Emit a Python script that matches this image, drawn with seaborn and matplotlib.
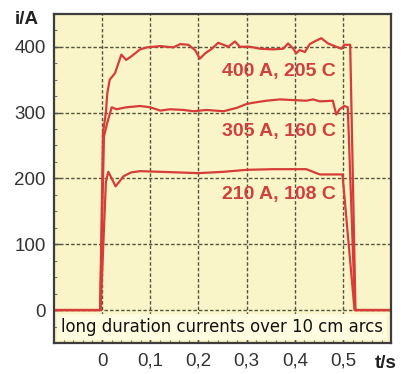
import matplotlib
matplotlib.use("Agg")
import matplotlib.pyplot as plt
from matplotlib.ticker import MultipleLocator
import seaborn as sns

# Current traces (t in s, i in A)
t_400 = [-0.1, -0.004, 0.002, 0.008, 0.011, 0.016, 0.027, 0.04, 0.05, 0.06, 0.079, 0.093,
         0.121, 0.148, 0.162, 0.179, 0.193, 0.203, 0.214, 0.228, 0.241, 0.252, 0.262, 0.276,
         0.286, 0.307, 0.328, 0.355, 0.376, 0.386, 0.397, 0.403, 0.41, 0.421, 0.431, 0.441,
         0.455, 0.469, 0.486, 0.497, 0.503, 0.515, 0.526, 0.6]
i_400 = [0, 0, 270, 300, 330, 350, 360, 388, 380, 385, 396, 399,
         401, 399, 404, 403, 395, 382, 390, 397, 406, 403, 400, 408,
         400, 400, 397, 396, 397, 405, 397, 390, 395, 392, 404, 408,
         413, 405, 400, 397, 403, 403, 0, 0]

t_305 = [-0.1, -0.004, 0.004, 0.011, 0.02, 0.03, 0.05, 0.079, 0.1, 0.121, 0.141, 0.169,
         0.19, 0.217, 0.252, 0.279, 0.3, 0.314, 0.341, 0.369, 0.397, 0.424, 0.438, 0.452,
         0.479, 0.486, 0.493, 0.503, 0.51, 0.525, 0.6]
i_305 = [0, 0, 264, 285, 308, 305, 308, 310, 308, 303, 305, 304,
         302, 304, 302, 307, 313, 315, 318, 320, 319, 318, 320, 317,
         318, 297, 305, 310, 308, 0, 0]

t_210 = [-0.1, -0.003, 0.008, 0.013, 0.02, 0.028, 0.036, 0.044, 0.06, 0.079, 0.121,
         0.2, 0.252, 0.3, 0.355, 0.424, 0.438, 0.452, 0.499, 0.524, 0.6]
i_210 = [0, 0, 195, 210, 200, 188, 195, 203, 209, 211, 210,
         208, 210, 213, 214, 214, 210, 206, 206, 0, 0]

trace_labels = ['400 A, 205 C', '305 A, 160 C', '210 A, 108 C']
label_t = [0.368, 0.368, 0.368]
label_i = [362, 271, 176]

x_ticks = [0, 0.1, 0.2, 0.3, 0.4, 0.5]
x_ticklabels = ['0', '0,1', '0,2', '0,3', '0,4', '0,5']
y_ticks = [0, 100, 200, 300, 400]
y_ticklabels = ['0', '100', '200', '300', '400']

RED = '#D63C38'

sns.set_theme(style="ticks")
plt.rcParams['font.family'] = ['Liberation Sans', 'DejaVu Sans']

fig = plt.figure(figsize=(4.02, 3.74), dpi=100)
ax = fig.add_axes([0.134, 0.083, 0.839, 0.880])
ax.set_facecolor('#FAF5C8')

for t, i in [(t_400, i_400), (t_305, i_305), (t_210, i_210)]:
    sns.lineplot(x=t, y=i, ax=ax, color=RED, lw=1.6, estimator=None, sort=False)

ax.set_xlim(-0.1, 0.6)
ax.set_ylim(-50, 450)
ax.set_xticks(x_ticks)
ax.set_xticklabels(x_ticklabels)
ax.set_yticks(y_ticks)
ax.set_yticklabels(y_ticklabels)
ax.xaxis.set_minor_locator(MultipleLocator(0.02))
ax.yaxis.set_minor_locator(MultipleLocator(25))
ax.tick_params(which='major', direction='in', length=4, width=1, color='#555555',
               labelsize=13.5, labelcolor='#333333', pad=6)
ax.tick_params(which='minor', direction='in', length=2.5, width=0.8, color='#777777')
ax.tick_params(axis='x', pad=7)
ax.grid(True, which='major', color='#55553f', ls=(0, (2.5, 1.5)), lw=1.0)
for s in ax.spines.values():
    s.set_color('#3d3d3d')
    s.set_linewidth(1.6)

for s, x, y in zip(trace_labels, label_t, label_i):
    ax.text(x, y, s, ha='center', va='center', fontsize=14,
            fontweight='bold', color='#D04040')

fig.text(27 / 402, 1 - 19 / 374, 'i/A', ha='center', va='center',
         fontsize=13.5, fontweight='bold', color='#222222')
fig.text(386 / 402, 1 - 364 / 374, 't/s', ha='center', va='center',
         fontsize=13.5, fontweight='bold', color='#222222')

ax.text(0.498, 0.049, 'long duration currents over 10 cm arcs', transform=ax.transAxes,
        ha='center', va='center', fontsize=11.9, family=['DejaVu Sans'], color='#111111',
        bbox=dict(facecolor='#FFFCE0', edgecolor='none', boxstyle='square,pad=0.25'))

fig.savefig('out.png', dpi=100)
